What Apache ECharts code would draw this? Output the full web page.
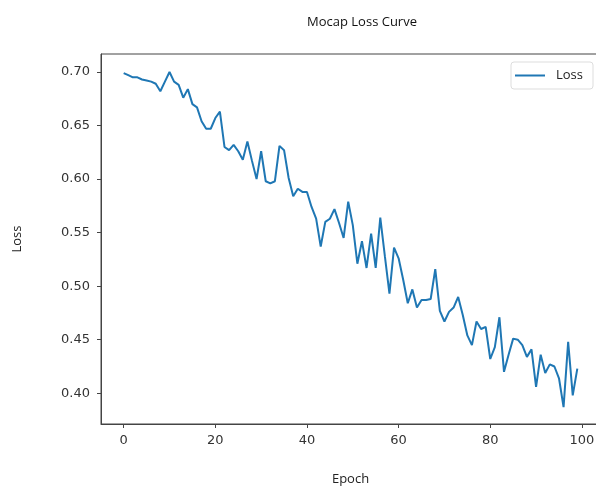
<!DOCTYPE html>
<html>
<head>
    <meta charset="utf-8">
    <title>Mocap Loss Curve</title>
    <script src="https://cdn.jsdelivr.net/npm/echarts@6/dist/echarts.min.js"></script>
    <style>
        html, body { margin: 0; padding: 0; background: #fff; }
    </style>
</head>
<body>
<div id="main" style="width: 596px;height:487px;"></div>
<script type="text/javascript">
    // epochs 0..99
    var epochs = [];
    for (var i = 0; i < 100; i++) epochs.push(i);

    // loss
    var loss = [
        0.699, 0.697, 0.695, 0.695, 0.693, 0.692, 0.691, 0.689, 0.682, 0.691,
        0.700, 0.691, 0.688, 0.676, 0.684, 0.670, 0.667, 0.654, 0.647, 0.647,
        0.657, 0.663, 0.630, 0.627, 0.632, 0.626, 0.618, 0.635, 0.617, 0.600,
        0.626, 0.598, 0.596, 0.598, 0.631, 0.627, 0.601, 0.584, 0.591, 0.588,
        0.588, 0.574, 0.563, 0.537, 0.560, 0.563, 0.572, 0.559, 0.545, 0.579,
        0.557, 0.521, 0.542, 0.517, 0.549, 0.517, 0.564, 0.528, 0.493, 0.536,
        0.526, 0.506, 0.484, 0.497, 0.480, 0.487, 0.487, 0.488, 0.516, 0.477,
        0.467, 0.476, 0.480, 0.490, 0.473, 0.454, 0.445, 0.467, 0.460, 0.462,
        0.432, 0.443, 0.471, 0.420, 0.436, 0.451, 0.450, 0.445, 0.434, 0.441,
        0.406, 0.436, 0.419, 0.427, 0.425, 0.414, 0.387, 0.448, 0.398, 0.423
    ];

    var xTicks = [0, 20, 40, 60, 80, 100];
    var yTicks = [0.40, 0.45, 0.50, 0.55, 0.60, 0.65, 0.70];

    var data = epochs.map(function (e, i) { return [e, loss[i]]; });

    var option = {
        animation: false,
        backgroundColor: '#fff',
        title: {
            text: 'Mocap Loss Curve',
            left: 357,
            top: 11,
            textAlign: 'center',
            textStyle: { fontFamily: 'Open Sans', fontSize: 13, fontWeight: 'normal', color: '#111' }
        },
        legend: {
            right: 3,
            top: 62,
            data: ['Loss'],
            icon: 'rect',
            itemWidth: 30,
            itemHeight: 2,
            itemGap: 6,
            padding: [7, 10, 7, 4],
            borderColor: '#ddd',
            borderWidth: 1,
            borderRadius: 3,
            textStyle: { fontFamily: 'Open Sans', fontSize: 13, color: '#222', padding: [0, 0, 0, 6] }
        },
        grid: {
            left: 101,
            top: 54,
            width: 499,
            height: 370,
            outerBoundsMode: 'none',
            containLabel: false,
            show: true,
            borderColor: '#444',
            borderWidth: 1
        },
        xAxis: {
            type: 'value',
            min: -4.95,
            max: 103.95,
            name: 'Epoch',
            nameLocation: 'middle',
            nameGap: 49,
            nameTextStyle: { fontFamily: 'Open Sans', fontSize: 13, color: '#222' },
            axisLine: { onZero: false, lineStyle: { color: '#444' } },
            axisTick: { customValues: xTicks, length: 4, lineStyle: { color: '#444' } },
            axisLabel: { customValues: xTicks, margin: 10, fontFamily: 'DejaVu Sans', fontSize: 13, color: '#333' },
            splitLine: { show: false }
        },
        yAxis: {
            type: 'value',
            min: 0.3713,
            max: 0.7168,
            name: 'Loss',
            nameLocation: 'middle',
            nameGap: 77,
            nameRotate: 90,
            nameTextStyle: { fontFamily: 'Open Sans', fontSize: 13, color: '#222' },
            axisLine: { show: true, onZero: false, lineStyle: { color: '#444' } },
            axisTick: { show: true, customValues: yTicks, length: 4, lineStyle: { color: '#444' } },
            axisLabel: {
                customValues: yTicks,
                margin: 11,
                fontFamily: 'DejaVu Sans',
                fontSize: 13,
                color: '#333',
                formatter: function (v) { return v.toFixed(2); }
            },
            splitLine: { show: false }
        },
        series: [
            {
                name: 'Loss',
                type: 'line',
                symbol: 'none',
                color: '#1f77b4',
                lineStyle: { width: 2, color: '#1f77b4' },
                data: data
            }
        ]
    };

    var myChart = echarts.init(document.getElementById('main'));
    myChart.setOption(option);
</script>
</body>
</html>
